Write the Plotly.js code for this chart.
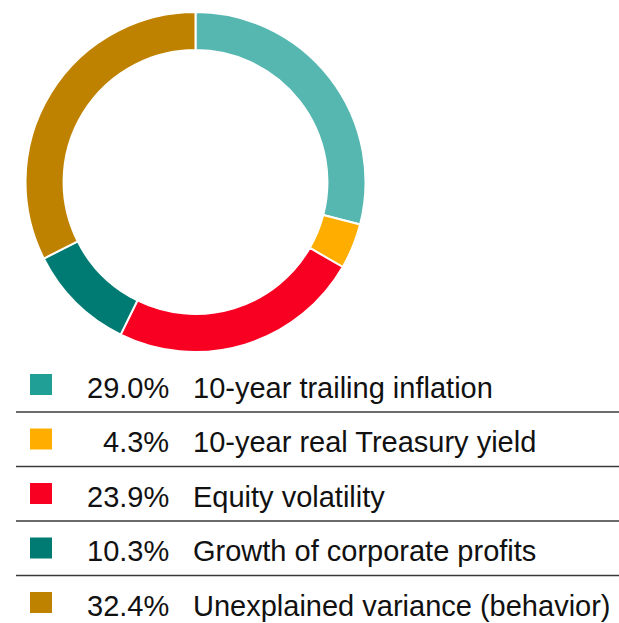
<!DOCTYPE html>
<html>
<head>
<meta charset="utf-8">
<script src="https://cdn.plot.ly/plotly-3.0.1.min.js"></script>
<style>
html,body{margin:0;padding:0;background:#fff;}
#chart{width:619px;height:623px;}
</style>
</head>
<body>
<div id="chart"></div>
<script>
var categories = ["10-year trailing inflation", "10-year real Treasury yield", "Equity volatility", "Growth of corporate profits", "Unexplained variance (behavior)"];
var values = [29.0, 4.3, 23.9, 10.3, 32.4];
var sliceColors = ["#56b7b1", "#ffae00", "#f80021", "#007b73", "#bf8200"];
var markerColors = ["#1f9f96", "#ffae00", "#f80021", "#007b73", "#bf8200"];

var W = 619, H = 623;
var FONT = "Arial, 'Liberation Sans', sans-serif";

var pie = {
  type: "pie",
  labels: categories,
  values: values,
  sort: false,
  direction: "clockwise",
  rotation: 0,
  hole: 0.776,
  textinfo: "none",
  hoverinfo: "label+percent",
  showlegend: false,
  marker: {colors: sliceColors, line: {color: "#ffffff", width: 2}},
  domain: {x: [25 / W, 366 / W], y: [1 - 352 / H, 1 - 12 / H]}
};

var rowTop = 357.5, rowH = 54.5;
var annotations = [], shapes = [];
for (var i = 0; i < categories.length; i++) {
  var cy = rowTop + rowH * i + 30;
  annotations.push({
    xref: "paper", yref: "paper", x: 171 / W, y: 1 - cy / H,
    xanchor: "right", yanchor: "middle", showarrow: false,
    text: values[i].toFixed(1) + "%",
    font: {family: FONT, size: 29, color: "#111111"}
  });
  annotations.push({
    xref: "paper", yref: "paper", x: 191 / W, y: 1 - cy / H,
    xanchor: "left", yanchor: "middle", showarrow: false,
    text: categories[i],
    font: {family: FONT, size: 29, color: "#111111"}
  });
  var my = cy - 3;
  shapes.push({
    type: "rect", xref: "paper", yref: "paper",
    x0: 30 / W, x1: 52 / W, y0: 1 - (my - 10.5) / H, y1: 1 - (my + 10.5) / H,
    fillcolor: markerColors[i], line: {width: 0}
  });
  if (i < categories.length - 1) {
    var ly = rowTop + rowH * (i + 1);
    shapes.push({
      type: "line", xref: "paper", yref: "paper",
      x0: 16 / W, x1: 1, y0: 1 - ly / H, y1: 1 - ly / H,
      line: {color: "#3a3a3a", width: 1.6}
    });
  }
}

var layout = {
  width: W, height: H,
  margin: {l: 0, r: 0, t: 0, b: 0},
  paper_bgcolor: "#ffffff",
  plot_bgcolor: "#ffffff",
  font: {family: FONT},
  annotations: annotations,
  shapes: shapes
};

Plotly.newPlot("chart", [pie], layout, {displayModeBar: false, staticPlot: true});
</script>
</body>
</html>
